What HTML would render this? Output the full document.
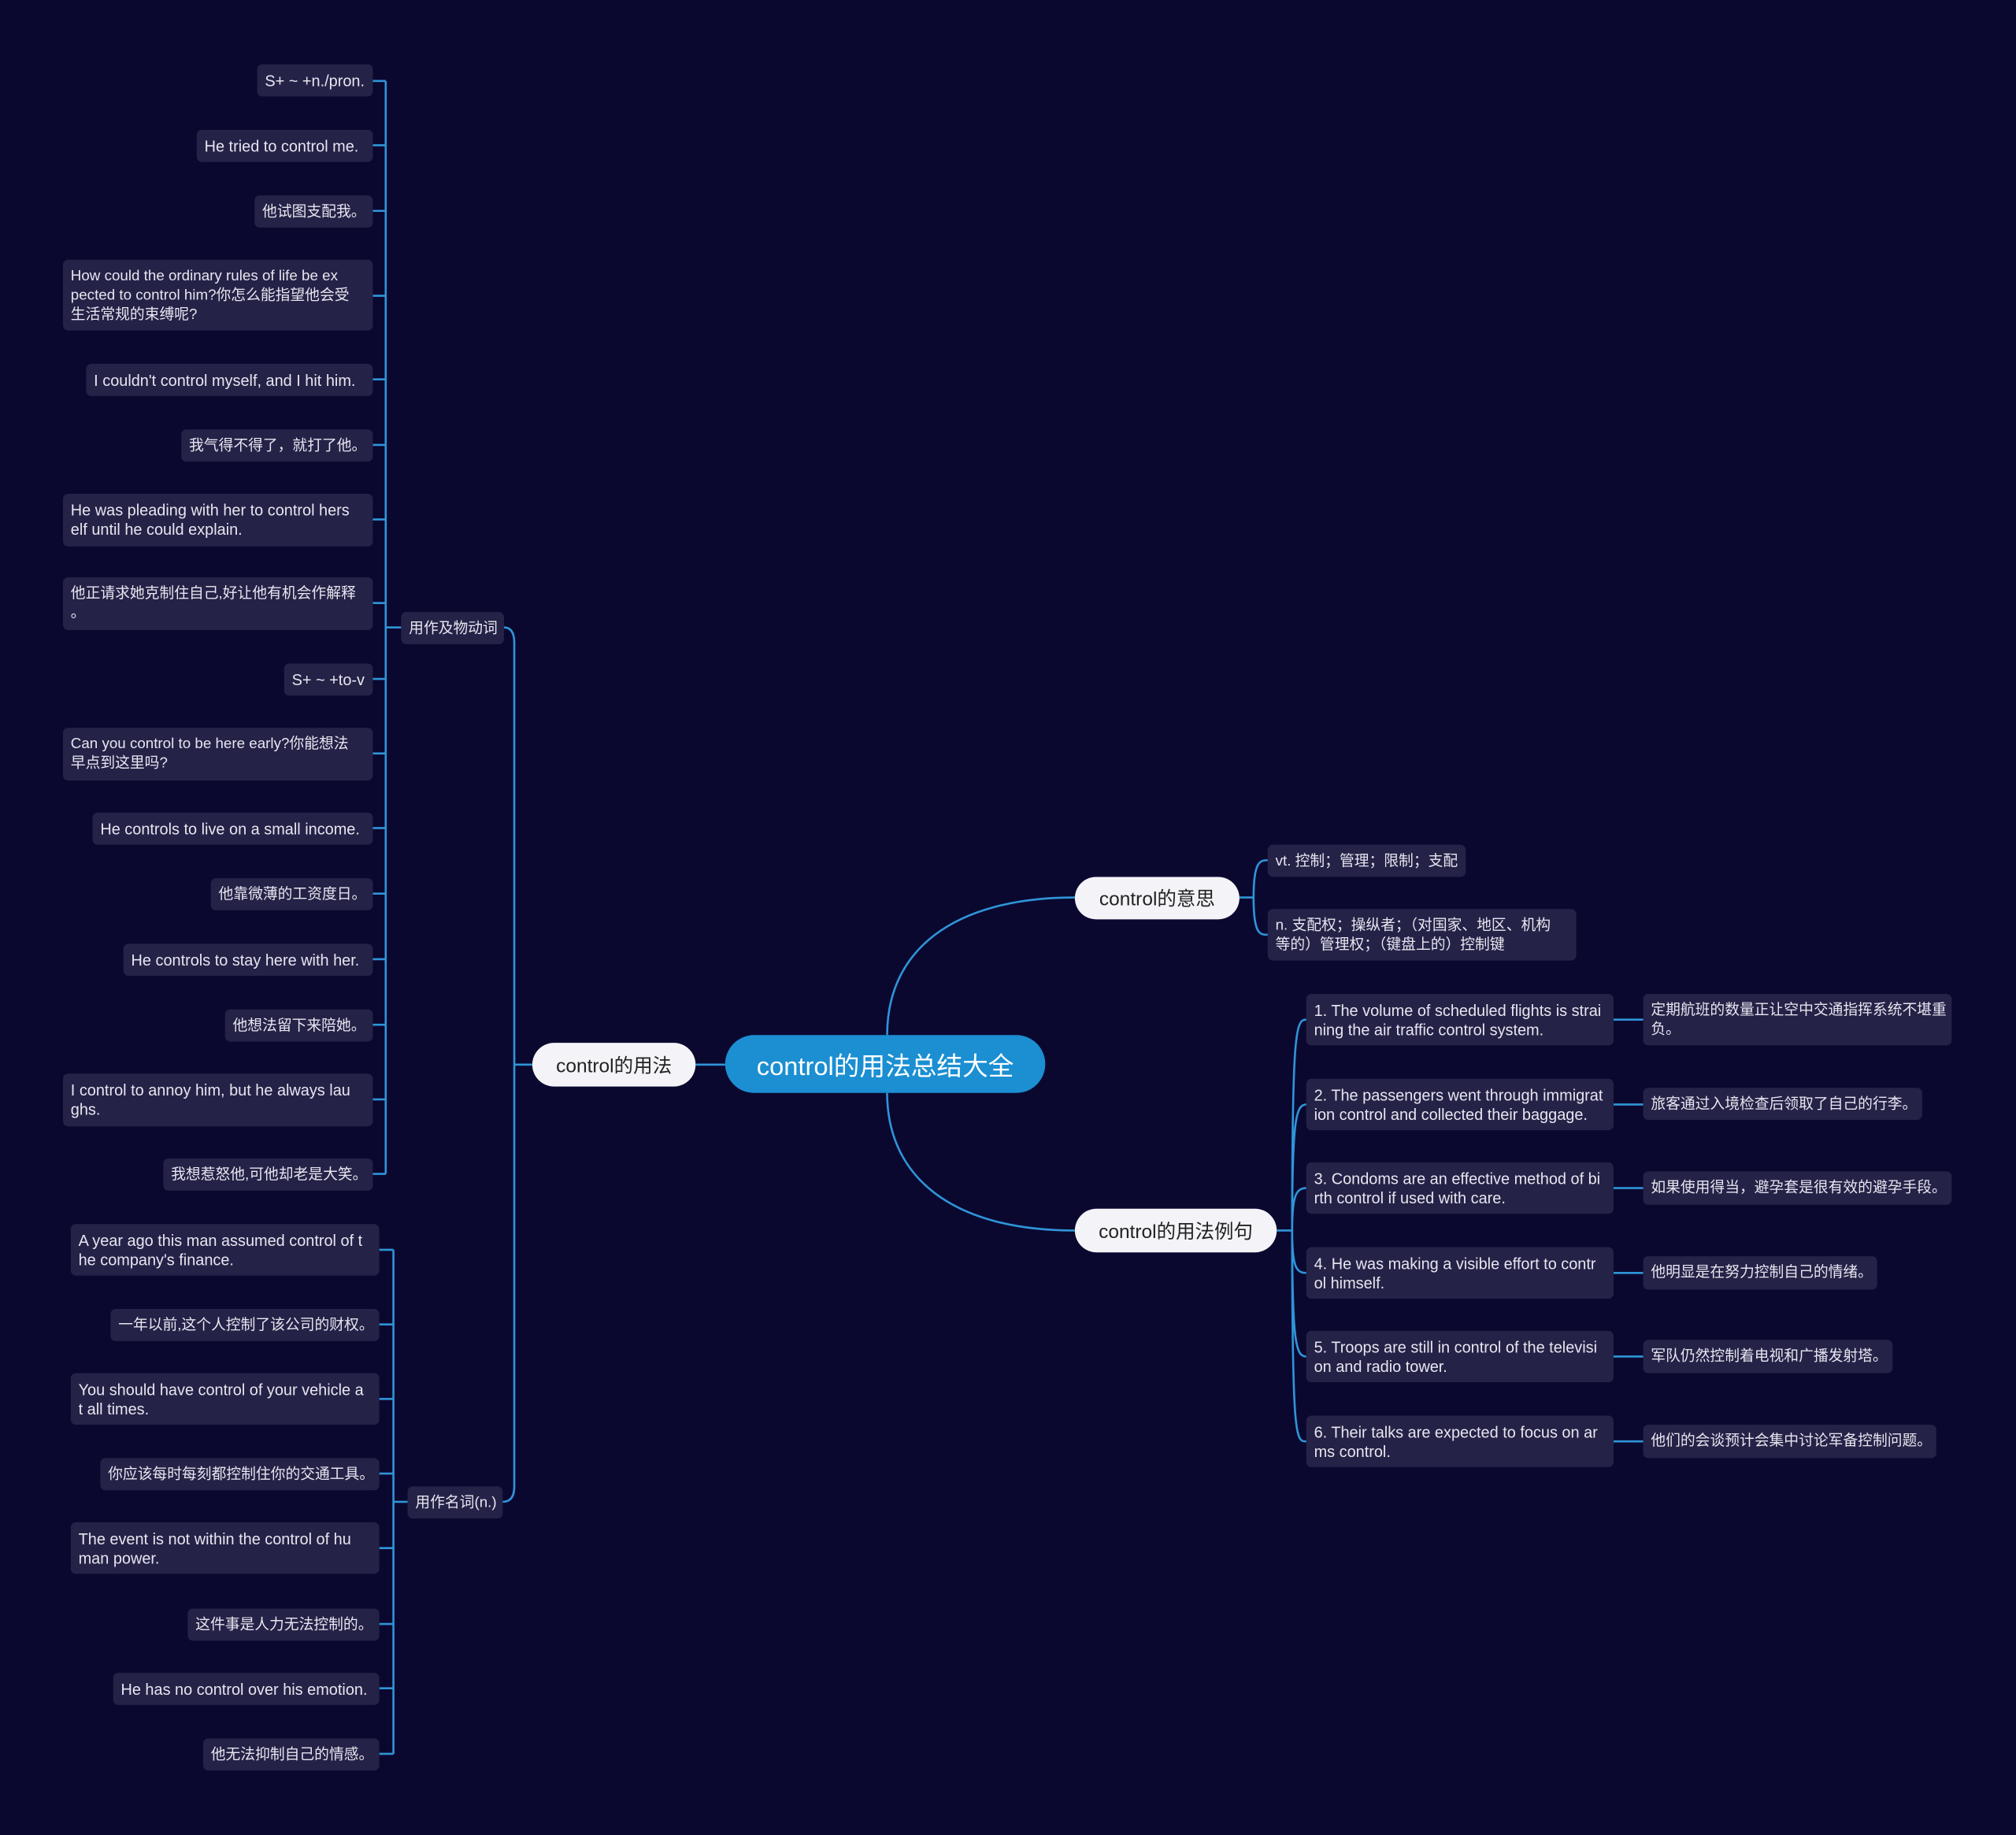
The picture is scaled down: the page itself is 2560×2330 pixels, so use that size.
<!DOCTYPE html>
<html><head><meta charset="utf-8"><style>
html,body{margin:0;padding:0;background:#0b0830;}
#wrap{width:1568px;height:1427px;position:relative;transform:scale(1.632653);transform-origin:0 0;font-family:"Liberation Sans","Noto Sans CJK SC",sans-serif;}
.n{position:absolute;background:#252247;color:#e6e6f0;font-size:11.5px;line-height:15px;border-radius:4px;padding:6px 6px 4px 6px;box-sizing:border-box;white-space:nowrap;overflow:hidden;}
.n.e{font-size:12.2px;}
.b{position:absolute;background:#f4f4f8;color:#222;font-size:15px;border-radius:17px;display:flex;align-items:center;justify-content:center;box-sizing:border-box;}
svg{position:absolute;left:0;top:0;}
</style></head><body><div id="wrap">
<svg width="1568" height="1427" fill="none" stroke="#2f95d8" stroke-width="1.6">
<path d="M300 63 V913"/>
<path d="M290 63 H300 M290 113 H300 M290 164 H300 M290 230 H300 M290 295 H300 M290 346 H300 M290 404 H300 M290 469 H300 M290 528 H300 M290 586 H300 M290 644 H300 M290 695 H300 M290 746 H300 M290 797 H300 M290 855 H300 M290 913 H300"/>
<path d="M300 488 H312"/>
<path d="M306 972 V1364"/>
<path d="M295 972 H306 M295 1030 H306 M295 1088 H306 M295 1146 H306 M295 1204 H306 M295 1263 H306 M295 1313 H306 M295 1364 H306"/>
<path d="M306 1168 H317"/>
<path d="M392 488 Q400 488 400 500 V1156 Q400 1168 391 1168"/>
<path d="M400 828 H414"/>
<path d="M541 828 H564"/>
<path d="M690 805 C690 740 740 698 836 698"/>
<path d="M690 850 C690 915 740 957 836 957"/>
<path d="M964 698 H975 M975 698 C975 670 980 669 986 669 M975 698 C975 727 980 727 986 727"/>
<path d="M993 957 H1005 M1005 957 C1005 800 1008 793 1016 793 M1005 957 C1005 1121 1008 1121 1016 1121 M1005 957 C1005 870 1008 859 1016 859 M1005 957 C1005 930 1008 924 1016 924 M1005 957 C1005 985 1008 990 1016 990 M1005 957 C1005 1045 1008 1055 1016 1055"/>
<path d="M1255 793 H1278 M1255 859 H1278 M1255 924 H1278 M1255 990 H1278 M1255 1055 H1278 M1255 1121 H1278"/>
</svg>

<div class="n e" style="left:200px;top:50px;width:90px;height:25px">S+ ~ +n./pron.</div>
<div class="n e" style="left:153px;top:101px;width:137px;height:25px">He tried to control me.</div>
<div class="n" style="left:198px;top:152px;width:92px;height:25px">他试图支配我。</div>
<div class="n" style="left:49px;top:202px;width:241px;height:55px">How could the ordinary rules of life be ex<br>pected to control him?你怎么能指望他会受<br>生活常规的束缚呢?</div>
<div class="n e" style="left:67px;top:283px;width:223px;height:25px">I couldn't control myself, and I hit him.</div>
<div class="n" style="left:141px;top:334px;width:149px;height:25px">我气得不得了，就打了他。</div>
<div class="n e" style="left:49px;top:384px;width:241px;height:41px">He was pleading with her to control hers<br>elf until he could explain.</div>
<div class="n" style="left:49px;top:449px;width:241px;height:41px">他正请求她克制住自己,好让他有机会作解释<br>。</div>
<div class="n e" style="left:221px;top:516px;width:69px;height:25px">S+ ~ +to-v</div>
<div class="n" style="left:49px;top:566px;width:241px;height:41px">Can you control to be here early?你能想法<br>早点到这里吗?</div>
<div class="n e" style="left:72px;top:632px;width:218px;height:25px">He controls to live on a small income.</div>
<div class="n" style="left:164px;top:683px;width:126px;height:25px">他靠微薄的工资度日。</div>
<div class="n e" style="left:96px;top:734px;width:194px;height:25px">He controls to stay here with her.</div>
<div class="n" style="left:175px;top:785px;width:115px;height:25px">他想法留下来陪她。</div>
<div class="n e" style="left:49px;top:835px;width:241px;height:41px">I control to annoy him, but he always lau<br>ghs.</div>
<div class="n" style="left:127px;top:901px;width:163px;height:25px">我想惹怒他,可他却老是大笑。</div>
<div class="n" style="left:312px;top:476px;width:80px;height:25px">用作及物动词</div>

<div class="n e" style="left:55px;top:952px;width:240px;height:40px">A year ago this man assumed control of t<br>he company's finance.</div>
<div class="n" style="left:86px;top:1018px;width:209px;height:25px">一年以前,这个人控制了该公司的财权。</div>
<div class="n e" style="left:55px;top:1068px;width:240px;height:40px">You should have control of your vehicle a<br>t all times.</div>
<div class="n" style="left:78px;top:1134px;width:217px;height:25px">你应该每时每刻都控制住你的交通工具。</div>
<div class="n e" style="left:55px;top:1184px;width:240px;height:40px">The event is not within the control of hu<br>man power.</div>
<div class="n" style="left:146px;top:1251px;width:149px;height:25px">这件事是人力无法控制的。</div>
<div class="n e" style="left:88px;top:1301px;width:207px;height:25px">He has no control over his emotion.</div>
<div class="n" style="left:158px;top:1352px;width:137px;height:25px">他无法抑制自己的情感。</div>
<div class="n" style="left:317px;top:1156px;width:74px;height:25px">用作名词(n.)</div>

<div class="b" style="left:414px;top:811px;width:127px;height:34px">control的用法</div>
<div class="b" style="left:564px;top:805px;width:249px;height:45px;background:#1b8fd2;color:#fff;font-size:20px;border-radius:23px">control的用法总结大全</div>
<div class="b" style="left:836px;top:682px;width:128px;height:33px">control的意思</div>
<div class="b" style="left:836px;top:940px;width:157px;height:34px">control的用法例句</div>

<div class="n" style="left:986px;top:657px;width:154px;height:25px">vt. 控制；管理；限制；支配</div>
<div class="n" style="left:986px;top:707px;width:240px;height:40px">n. 支配权；操纵者；（对国家、地区、机构<br>等的）管理权；（键盘上的）控制键</div>

<div class="n e" style="left:1016px;top:773px;width:239px;height:40px">1. The volume of scheduled flights is strai<br>ning the air traffic control system.</div>
<div class="n e" style="left:1016px;top:839px;width:239px;height:40px">2. The passengers went through immigrat<br>ion control and collected their baggage.</div>
<div class="n e" style="left:1016px;top:904px;width:239px;height:40px">3. Condoms are an effective method of bi<br>rth control if used with care.</div>
<div class="n e" style="left:1016px;top:970px;width:239px;height:40px">4. He was making a visible effort to contr<br>ol himself.</div>
<div class="n e" style="left:1016px;top:1035px;width:239px;height:40px">5. Troops are still in control of the televisi<br>on and radio tower.</div>
<div class="n e" style="left:1016px;top:1101px;width:239px;height:40px">6. Their talks are expected to focus on ar<br>ms control.</div>

<div class="n" style="left:1278px;top:773px;width:240px;height:40px">定期航班的数量正让空中交通指挥系统不堪重<br>负。</div>
<div class="n" style="left:1278px;top:846px;width:217px;height:25px">旅客通过入境检查后领取了自己的行李。</div>
<div class="n" style="left:1278px;top:911px;width:240px;height:26px">如果使用得当，避孕套是很有效的避孕手段。</div>
<div class="n" style="left:1278px;top:977px;width:182px;height:26px">他明显是在努力控制自己的情绪。</div>
<div class="n" style="left:1278px;top:1042px;width:194px;height:26px">军队仍然控制着电视和广播发射塔。</div>
<div class="n" style="left:1278px;top:1108px;width:228px;height:26px">他们的会谈预计会集中讨论军备控制问题。</div>
</div></body></html>
